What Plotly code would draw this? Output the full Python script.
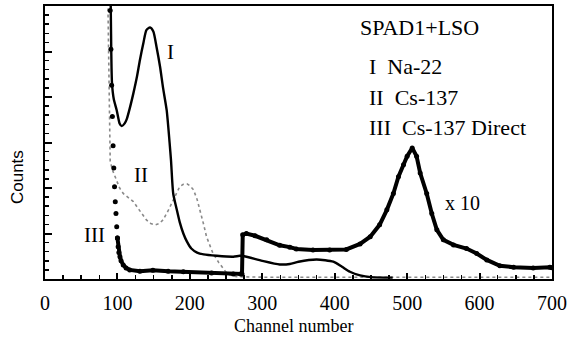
import plotly.graph_objects as go

# Curve I: Na-22 (solid)
ch_I = [90, 91.5, 92.5, 95, 99, 103, 106, 110, 113, 117, 122, 127, 131, 136, 140, 145, 149.6, 154, 158.8, 163, 168, 172, 174, 177, 182, 186, 191, 196, 202, 210, 219, 237, 260, 269, 275, 300, 324, 338, 350, 375, 398, 410, 421, 435, 450, 480]
cnt_I = [7.0, 5.0, 4.3, 3.95, 3.71, 3.42, 3.36, 3.42, 3.52, 3.75, 4.08, 4.45, 4.81, 5.2, 5.47, 5.53, 5.44, 5.1, 4.67, 4.2, 3.71, 3.0, 2.6, 1.88, 1.52, 1.25, 1.0, 0.82, 0.67, 0.58, 0.54, 0.51, 0.49, 0.51, 0.50, 0.40, 0.32, 0.33, 0.38, 0.43, 0.38, 0.27, 0.16, 0.08, 0.04, 0.03]

# Curve II: Cs-137 (grey dotted)
ch_II = [86, 87, 88, 89, 90, 93, 99, 103, 108, 115, 122, 130, 140, 146, 152, 158, 163, 170, 177, 182, 186, 191, 196, 200, 205, 210, 214, 219, 223, 228, 232, 240, 246, 250, 255, 265, 300, 400, 500, 600, 700]
cnt_II = [7.0, 6.0, 4.5, 3.2, 2.6, 2.4, 2.18, 2.0, 1.88, 1.8, 1.70, 1.52, 1.30, 1.22, 1.19, 1.22, 1.30, 1.5, 1.74, 1.92, 2.03, 2.08, 2.09, 2.05, 1.96, 1.75, 1.52, 1.2, 0.93, 0.72, 0.56, 0.36, 0.24, 0.15, 0.09, 0.05, 0.04, 0.04, 0.04, 0.04, 0.04]

# Curve III: Cs-137 direct, steep sampled part (dots)
ch_III_a = [89, 90, 91, 92, 93, 94, 95, 96, 97, 98, 99, 100]
cnt_III_a = [6.7, 5.9, 5.05, 4.26, 3.57, 2.93, 2.44, 2.03, 1.70, 1.44, 1.15, 0.90]

# Curve III: continuous part (x10 above channel ~272)
ch_III_b = [100, 101, 102, 103.5, 105, 108, 112, 117, 131, 149, 170, 191, 230, 260, 270, 272, 273, 278, 290, 306, 324, 338, 347, 370, 393, 416, 435, 449, 462, 472, 481, 488, 495, 500, 507, 513, 518, 527, 534, 541, 550, 564, 582, 596, 610, 628, 647, 674, 697, 700]
cnt_III_b = [0.90, 0.71, 0.58, 0.49, 0.40, 0.31, 0.24, 0.20, 0.17, 0.19, 0.17, 0.16, 0.13, 0.11, 0.11, 0.11, 0.97, 1.0, 0.95, 0.86, 0.74, 0.70, 0.66, 0.64, 0.64, 0.65, 0.77, 0.93, 1.19, 1.52, 1.88, 2.25, 2.51, 2.70, 2.88, 2.70, 2.33, 1.88, 1.44, 1.08, 0.86, 0.75, 0.67, 0.56, 0.42, 0.29, 0.26, 0.24, 0.26, 0.25]

x_ticks = [0, 100, 200, 300, 400, 500, 600, 700]

SERIF = "Liberation Serif"
SANS = "Liberation Sans"

fig = go.Figure()
fig.add_trace(go.Scatter(x=ch_II, y=cnt_II, mode="lines",
                         line=dict(color="#8a8a8a", width=1.6, dash="dot"),
                         hoverinfo="skip", showlegend=False))
fig.add_trace(go.Scatter(x=ch_I, y=cnt_I, mode="lines",
                         line=dict(color="black", width=2.4, shape="spline", smoothing=0.6),
                         showlegend=False))
fig.add_trace(go.Scatter(x=ch_III_a, y=cnt_III_a, mode="markers",
                         marker=dict(color="black", size=5),
                         showlegend=False))
fig.add_trace(go.Scatter(x=ch_III_b, y=cnt_III_b, mode="lines+markers",
                         line=dict(color="black", width=4),
                         marker=dict(color="black", size=5),
                         showlegend=False))

annots = [
    dict(x=173, y=5.0, text="I", xanchor="center", size=21),
    dict(x=133, y=2.29, text="II", xanchor="center", size=21),
    dict(x=68, y=0.97, text="III", xanchor="center", size=21),
    dict(x=549, y=1.67, text="x 10", xanchor="left", size=20),
    dict(x=432, y=5.52, text="SPAD1+LSO", xanchor="left", size=22),
    dict(x=444, y=4.68, text="I  Na-22", xanchor="left", size=22),
    dict(x=444, y=4.0, text="II  Cs-137", xanchor="left", size=22),
    dict(x=444, y=3.34, text="III  Cs-137 Direct", xanchor="left", size=22),
]
for a in annots:
    fig.add_annotation(x=a["x"], y=a["y"], text=a["text"], xanchor=a["xanchor"],
                       yanchor="middle", showarrow=False,
                       font=dict(family=SERIF, size=a["size"], color="black"))

# axis titles placed in paper coordinates
fig.add_annotation(x=0.49, y=-0.172, xref="paper", yref="paper", text="Channel number",
                   showarrow=False, xanchor="center", yanchor="middle",
                   font=dict(family=SERIF, size=18, color="black"))
fig.add_annotation(x=-0.053, y=0.374, xref="paper", yref="paper", text="Counts",
                   showarrow=False, xanchor="center", yanchor="middle", textangle=-90,
                   font=dict(family=SANS, size=17, color="black"))

fig.update_layout(
    template="none",
    width=572, height=337,
    margin=dict(l=45, r=20, t=6, b=58, pad=0),
    paper_bgcolor="white", plot_bgcolor="white",
    showlegend=False,
)
fig.update_xaxes(
    automargin=False,
    range=[0, 700], tickvals=x_ticks, ticktext=[str(v) for v in x_ticks],
    showgrid=False, zeroline=False,
    showline=True, linecolor="black", linewidth=2, mirror=True,
    ticks="inside", ticklen=6, tickwidth=2, tickcolor="black",
    minor=dict(dtick=25, ticks="inside", ticklen=4, tickwidth=1.5, tickcolor="black", showgrid=False),
    tickfont=dict(family=SERIF, size=20, color="black"),
    ticklabelstandoff=5,
)
fig.update_yaxes(
    automargin=False,
    range=[0, 6], dtick=1, showticklabels=False,
    showgrid=False, zeroline=False,
    showline=True, linecolor="black", linewidth=2, mirror=True,
    ticks="inside", ticklen=7, tickwidth=2, tickcolor="black",
    minor=dict(dtick=0.2, ticks="inside", ticklen=4, tickwidth=1.5, tickcolor="black", showgrid=False),
)

fig.write_html("out.html", config={"displayModeBar": False, "staticPlot": True},
               post_script="document.body.style.margin='0';document.body.style.overflow='hidden';")
